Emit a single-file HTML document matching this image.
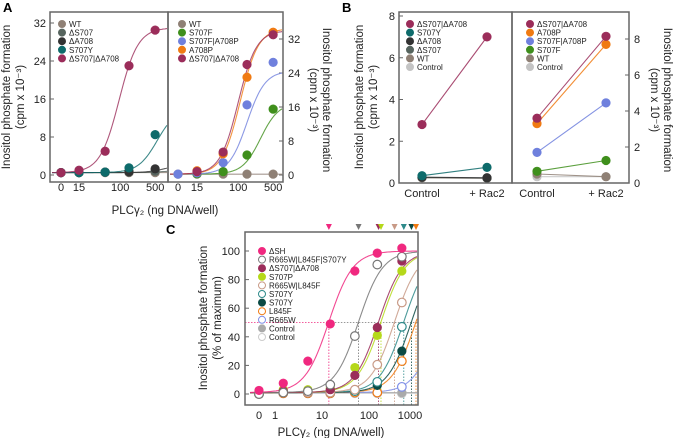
<!DOCTYPE html>
<html><head><meta charset="utf-8"><style>
body{margin:0;background:#fff;}
svg{display:block;font-family:"Liberation Sans",Arial,sans-serif;}
</style></head><body>
<svg id="fig" width="675" height="438" viewBox="0 0 675 438"></svg>
<script>
// ---------- DATA ----------
const doseA = [0, 15, 50, 150, 500];
const aLeftNames = ["WT","ΔS707","ΔA708","S707Y","ΔS707|ΔA708"];
const aLeftWT = [0.5,0.5,0.5,0.5,0.5];
const aLeftdS707 = [0.5,0.5,0.6,0.6,0.8];
const aLeftdA708 = [0.5,0.5,0.6,0.7,1.3];
const aLeftS707Y = [0.5,0.5,0.6,1.5,8.5];
const aLeftdSdA = [0.5,1.0,5.0,23,30.5];
const aLeftTop = [0.5,1.0,2.5,14,31];
const aLeftEc = [100,800,900,550,95];

const aRightNames = ["WT","S707F","S707F|A708P","A708P","ΔS707|ΔA708"];
const aRightWT = [0.2,0.2,0.2,0.2,0.2];
const aRightS707F = [0.2,0.3,0.8,4.7,15.5];
const aRightS707FA708P = [0.2,0.5,2.9,16.5,26.5];
const aRightA708P = [0.2,1.0,5.0,23,33.6];
const aRightdSdA = [0.2,0.8,5.4,26,33];
const aRightTop = [0.2,17,24.5,34.5,34];
const aRightEc = [100,280,150,110,100];

const bCats = ["Control","+ Rac2"];
const bLeftNames = ["ΔS707|ΔA708","S707Y","ΔA708","ΔS707","WT","Control"];
const bLeftdSdA = [2.8,7.0];
const bLeftS707Y = [0.35,0.75];
const bLeftdA708 = [0.28,0.25];
const bLeftdS707 = [0.27,0.24];
const bLeftWT = [0.25,0.23];
const bLeftControl = [0.25,0.22];
const bRightNames = ["ΔS707|ΔA708","A708P","S707F|A708P","S707F","WT","Control"];
const bRightdSdA = [3.6,8.15];
const bRightA708P = [3.3,7.7];
const bRightS707FA708P = [1.7,4.45];
const bRightS707F = [0.65,1.25];
const bRightWT = [0.5,0.35];
const bRightControl = [0.35,0.35];

const doseC = [0, 1.5, 5, 15, 50, 150, 500];
const cNames = ["ΔSH","R665W|L845F|S707Y","ΔS707|ΔA708","S707P","R665W|L845F","S707Y","S707Y","L845F","R665W","Control","Control"];
const cdSH = [2.5,7.5,23,49,86,98.5,102];
const cTriple = [0,1,2,6.5,40.5,90.5,96];
const cdSdA = [1,2,2,3,13,46.5,93];
const cS707P = [1,3,3,4,18.5,41,86];
const cRL = [0,1,1,1,3,20.5,64];
const cS707Yo = [0,1,1,1,2,8.5,47];
const cS707Yf = [1,2,2,2,2,6,30];
const cL845F = [0,0.5,0.5,0.5,1,1,23];
const cR665W = [0,0.5,0.5,0.5,1,1,5];
const cCtrlF = [1,1,1,1,1,1,1];
const cCtrlO = [0.5,0.5,0.5,0.5,0.5,0.5,0.5];
const cEc = [14,60,160,180,350,550,800,1000,3000,0,0];
const cTop = [100,100,100,100,100,100,100,100,100,1,0.5];
const yTicksA = [0,8,16,24,32];
const yTicksB = [0,2,4,6,8];
const yTicksC = [0,20,40,60,80,100];
const xTicksC = [0,1,10,100,1000];

// ---------- HELPERS ----------
const NS="http://www.w3.org/2000/svg";
const svg=document.getElementById('fig');
function mk(tag,attrs,parent){const e=document.createElementNS(NS,tag);for(const k in attrs)e.setAttribute(k,attrs[k]);(parent||svg).appendChild(e);return e;}
function txt(x,y,s,size,anchor,parent,extra){const t=mk('text',Object.assign({x:x,y:y,'font-size':size,'text-anchor':anchor||'middle',fill:'#222'},extra||{}),parent);t.textContent=s;return t;}
function sig(x,base,top,ec,h){return base+(top-base)/(1+Math.pow(ec/x,h));}

function frame(x0,y0,x1,y1,name){
  const r=mk('rect',{x:x0,y:y0,width:x1-x0,height:y1-y0,fill:'none',stroke:'#666','stroke-width':1.5});
  
  
}
function marker(g,x,y,color,open){
  const c=mk('circle',{cx:x,cy:y,r:4.3,fill:open?'#fff':color,stroke:color,'stroke-width':open?1.2:0.6},g);
  
  
}
function legend(x,y,names,colors,opens,name){
  const g=mk('g',{});
  
  
  names.forEach((n,i)=>{
    const cy=y+i*8.6;
    mk('circle',{cx:x,cy:cy,r:3.5,fill:opens&&opens[i]?'#fff':colors[i],stroke:colors[i],'stroke-width':1},g);
    txt(x+7,cy+3,n,8,'start',g);
  });
}

// ---------- PANEL A ----------
const colA={WT:'#8f8075',dS707:'#56645e',dA708:'#333',S707Y:'#0e6b6b',dSdA:'#9b2d5a',S707F:'#3f8f1c',SFAP:'#6f80dd',A708P:'#f07a12'};
(function(){
  const gl=mk('g',{});
  const xL=v=>v<=0?61:79+50*Math.log10(v/15);
  const yL=v=>175-v*152/32;
  frame(50,12,168,182,'panel-a-left-frame');
  yTicksA.forEach(t=>{mk('line',{x1:50,x2:54,y1:yL(t),y2:yL(t),stroke:'#666'},gl);txt(46,yL(t)+4,String(t),11,'end',gl);});
  [0,15,100,500].forEach(t=>txt(xL(t),191,String(t),11,'middle',gl));
  const series=[aLeftWT,aLeftdS707,aLeftdA708,aLeftS707Y,aLeftdSdA];
  const cols=[colA.WT,colA.dS707,colA.dA708,colA.S707Y,colA.dSdA];
  series.forEach((s,i)=>{
    let d='';for(let px=52;px<=167;px++){const v=15*Math.pow(10,(px-79)/50);d+=(d?'L':'M')+px+','+yL(sig(v,0.5,aLeftTop[i],aLeftEc[i],2.3)).toFixed(1);}
    const p=mk('path',{d:d,fill:'none',stroke:cols[i],'stroke-width':1.1,opacity:0.8},gl);
    
  });
  series.forEach((s,i)=>s.forEach((v,j)=>marker(gl,xL(doseA[j]),yL(v),cols[i],false)));
  legend(62,24,aLeftNames,cols,null,'legend-a-left');
  txt(10,97,'Inositol phosphate formation',11.5,'middle',gl,{transform:'rotate(-90 10 97)'});
  txt(24,97,'(cpm x 10⁻³)',11.5,'middle',gl,{transform:'rotate(-90 24 97)'});
  txt(3,12,'A',13,'start',gl,{'font-weight':'bold',fill:'#000'});

  const gr=mk('g',{});
  const xR=v=>v<=0?178:197+50*Math.log10(v/15);
  const yR=v=>175-v*136/32;
  frame(168,12,283,182,'panel-a-right-frame');
  yTicksA.forEach(t=>{mk('line',{x1:279,x2:283,y1:yR(t),y2:yR(t),stroke:'#666'},gr);txt(288,yR(t)+4,String(t),11,'start',gr);});
  [0,15,100,500].forEach(t=>txt(xR(t),191,String(t),11,'middle',gr));
  const s2=[aRightWT,aRightS707F,aRightS707FA708P,aRightA708P,aRightdSdA];
  const c2=[colA.WT,colA.S707F,colA.SFAP,colA.A708P,colA.dSdA];
  s2.forEach((s,i)=>{
    let d='';for(let px=170;px<=282;px++){const v=15*Math.pow(10,(px-197)/50);d+=(d?'L':'M')+px+','+yR(sig(v,0.2,aRightTop[i],aRightEc[i],2.4)).toFixed(1);}
    const p=mk('path',{d:d,fill:'none',stroke:c2[i],'stroke-width':1.1,opacity:0.8},gr);
    
  });
  s2.forEach((s,i)=>s.forEach((v,j)=>{if(j===0&&i!==2&&i!==0)return;marker(gr,xR(doseA[j]),yR(v),c2[i],false);}));
  legend(182,24,aRightNames,c2,null,'legend-a-right');
  txt(323,100,'Inositol phosphate formation',11.5,'middle',gr,{transform:'rotate(90 323 100)'});
  txt(310,100,'(cpm x 10⁻³)',11.5,'middle',gr,{transform:'rotate(90 310 100)'});
  const xt=txt(165,214,'PLCγ₂ (ng DNA/well)',11.5,'middle',gr);
  
})();

// ---------- PANEL B ----------
(function(){
  const g=mk('g',{});
  txt(342,12,'B',13,'start',g,{'font-weight':'bold',fill:'#000'});
  const yL=v=>183-v*167/8, yR=v=>183-v*144/8;
  const xl=[422,487], xr=[537,606];
  frame(399,12,512,183,'panel-b-left-frame');
  frame(512,12,629,183,'panel-b-right-frame');
  yTicksB.forEach(t=>{mk('line',{x1:399,x2:403,y1:yL(t),y2:yL(t),stroke:'#666'},g);txt(395,yL(t)+4,String(t),11,'end',g);});
  yTicksB.forEach(t=>{mk('line',{x1:625,x2:629,y1:yR(t),y2:yR(t),stroke:'#666'},g);txt(634,yR(t)+4,String(t),11,'start',g);});
  bCats.forEach((c,i)=>{txt(xl[i],197,c,11,'middle',g);txt(xr[i],197,c,11,'middle',g);});
  const cl=[colA.dSdA,colA.S707Y,colA.dA708,colA.dS707,colA.WT,'#c4c4c4'];
  const sl=[bLeftdSdA,bLeftS707Y,bLeftdA708,bLeftdS707,bLeftWT,bLeftControl];
  const cr=[colA.dSdA,colA.A708P,colA.SFAP,colA.S707F,colA.WT,'#c4c4c4'];
  const sr=[bRightdSdA,bRightA708P,bRightS707FA708P,bRightS707F,bRightWT,bRightControl];
  [[sl,cl,xl,yL],[sr,cr,xr,yR]].forEach(([ss,cc,xx,yy])=>{
    for(let i=ss.length-1;i>=0;i--){
      const s=ss[i];
      const ln=mk('line',{x1:xx[0],y1:yy(s[0]),x2:xx[1],y2:yy(s[1]),stroke:cc[i],'stroke-width':1.1,opacity:0.85},g);
      
      s.forEach((v,j)=>marker(g,xx[j],yy(v),cc[i],false));
    }
  });
  legend(410,24,bLeftNames,cl,null,'legend-b-left');
  legend(530,24,bRightNames,cr,null,'legend-b-right');
  txt(363,97,'Inositol phosphate formation',11.5,'middle',g,{transform:'rotate(-90 363 97)'});
  txt(377,97,'(cpm x 10⁻³)',11.5,'middle',g,{transform:'rotate(-90 377 97)'});
  txt(664,100,'Inositol phosphate formation',11.5,'middle',g,{transform:'rotate(90 664 100)'});
  txt(651,100,'(cpm x 10⁻³)',11.5,'middle',g,{transform:'rotate(90 651 100)'});
})();

// ---------- PANEL C ----------
(function(){
  const g=mk('g',{});
  txt(166,234,'C',13,'start',g,{'font-weight':'bold',fill:'#000'});
  const x=v=>v<=0?259:275+47*Math.log10(v);
  const y=v=>394-v*1.43;
  frame(245,232,418,405,'panel-c-frame');
  yTicksC.forEach(t=>{mk('line',{x1:245,x2:249,y1:y(t),y2:y(t),stroke:'#666'},g);txt(240,y(t)+4,String(t),11,'end',g);});
  xTicksC.forEach(t=>txt(Math.min(x(t),410),419,String(t),11,'middle',g));
  const xt=txt(331,436,'PLCγ₂ (ng DNA/well)',11.5,'middle',g);
  
  txt(207,318,'Inositol phosphate formation',11.5,'middle',g,{transform:'rotate(-90 207 318)'});
  txt(221,318,'(% of maximum)',11.5,'middle',g,{transform:'rotate(-90 221 318)'});
  const cols=['#f0287f','#777','#9b2d5a','#b5d81a','#c89a86','#2e8a8a','#0b4a44','#f07a12','#7f8fe8','#aaa','#ccc'];
  const opens=[false,true,false,false,true,true,false,true,true,false,true];
  const ss=[cdSH,cTriple,cdSdA,cS707P,cRL,cS707Yo,cS707Yf,cL845F,cR665W,cCtrlF,cCtrlO];
  mk('line',{x1:245,x2:x(cEc[0]),y1:y(50),y2:y(50),stroke:'#f0287f','stroke-dasharray':'1.5,1.5','stroke-width':0.8},g);
  mk('line',{x1:x(cEc[0]),x2:418,y1:y(50),y2:y(50),stroke:'#777','stroke-dasharray':'1.5,1.5','stroke-width':0.8},g);
  for(let i=0;i<9;i++){
    const ex=x(cEc[i]);if(ex>418)continue;
    mk('line',{x1:ex,x2:ex,y1:y(50),y2:405,stroke:cols[i],'stroke-dasharray':'1.5,1.5','stroke-width':0.8},g);
    const tri=mk('path',{d:`M${ex-3},224 L${ex+3},224 L${ex},230 Z`,fill:cols[i]},g);
    
  }
  for(let i=ss.length-1;i>=0;i--){
    let d='';
    for(let px=250;px<=417;px++){const v=Math.pow(10,(px-275)/47);const val=cEc[i]>0?sig(v,1,cTop[i],cEc[i],1.7):cTop[i];d+=(d?'L':'M')+px+','+y(val).toFixed(1);}
    const p=mk('path',{d:d,fill:'none',stroke:cols[i],'stroke-width':1.1,opacity:0.85},g);
    
  }
  for(let i=ss.length-1;i>=0;i--) ss[i].forEach((v,j)=>marker(g,x(doseC[j]),y(v),cols[i],opens[i]));
  legend(262,251,cNames,cols,opens,'legend-c');
})();
</script>
</body></html>
